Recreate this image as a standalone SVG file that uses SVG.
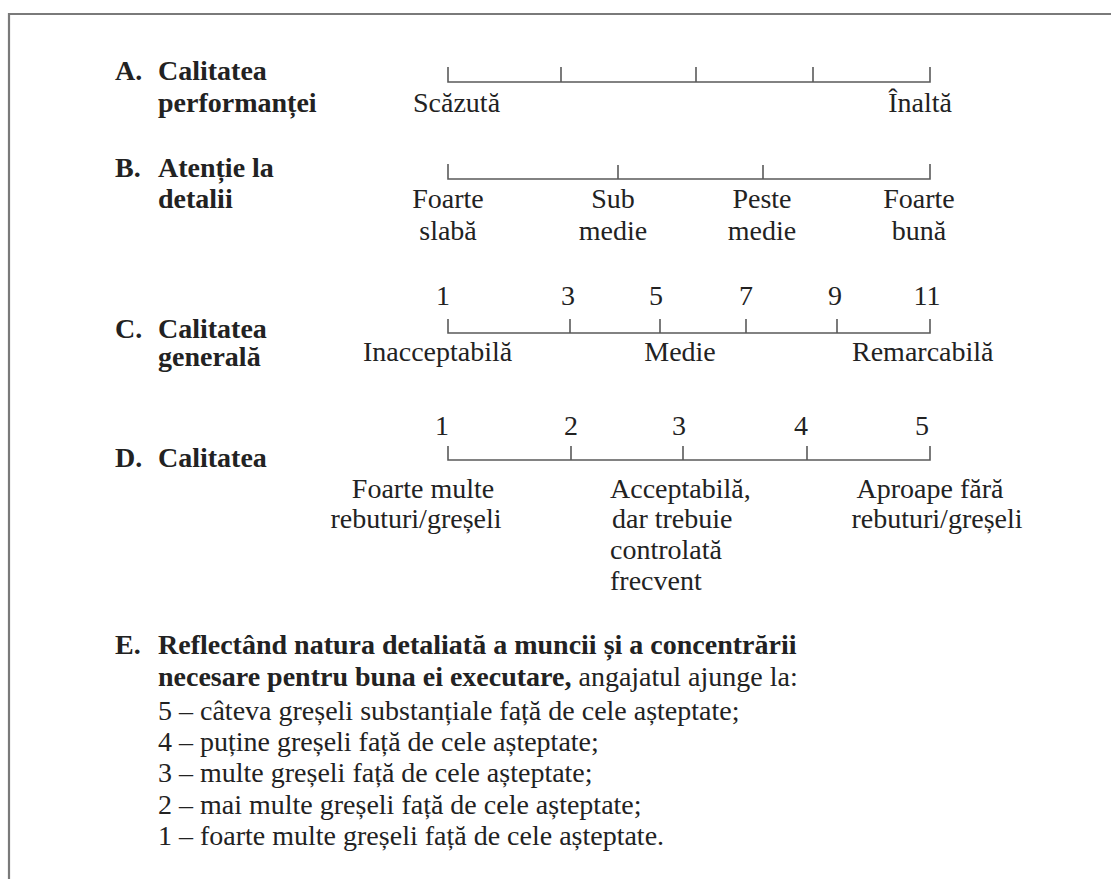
<svg xmlns="http://www.w3.org/2000/svg" width="1111" height="879" viewBox="0 0 1111 879">
  <rect width="1111" height="879" fill="#fff"/>
  <path d="M9,879 V14 H1111" stroke="#7a7a7a" stroke-width="2.2" fill="none"/>

  <!-- scale axes -->
  <g id="axes" stroke="#5a5a5a" stroke-width="1.6" fill="none">
    <path id="axis-a" d="M448,67 V82 H930 V67 M561,67 V82 M696,67 V82 M813,67 V82"/>
    <path id="axis-b" d="M448,164 V179 H930 V164 M618,165 V179 M763,165 V179"/>
    <path id="axis-c" d="M448,319 V333 H930 V319 M570,319 V333 M660,319 V333 M746,319 V333 M837,319 V333"/>
    <path id="axis-d" d="M448,446 V460 H930 V446 M571,446 V460 M683,446 V460 M807,446 V460"/>
  </g>

  <g fill="#222" font-size="28">
    <g id="scale-a">
      <text style="font-family: 'Liberation Serif'" font-weight="bold" x="115" y="80">A.</text>
      <text style="font-family: 'Liberation Serif'" font-weight="bold" x="158" y="80">Calitatea</text>
      <text style="font-family: 'Liberation Serif'" font-weight="bold" x="158" y="112">performanței</text>
      <text style="font-family: 'Liberation Serif'" x="413" y="112">Scăzută</text>
      <text style="font-family: 'Liberation Serif'" text-anchor="end" x="952" y="112">Înaltă</text>
    </g>

    <g id="scale-b">
      <text style="font-family: 'Liberation Serif'" font-weight="bold" x="115" y="177">B.</text>
      <text style="font-family: 'Liberation Serif'" font-weight="bold" x="158" y="177">Atenție la</text>
      <text style="font-family: 'Liberation Serif'" font-weight="bold" x="158" y="208">detalii</text>
      <text style="font-family: 'Liberation Serif'" text-anchor="middle" x="448" y="208">Foarte</text>
      <text style="font-family: 'Liberation Serif'" text-anchor="middle" x="448" y="240">slabă</text>
      <text style="font-family: 'Liberation Serif'" text-anchor="middle" x="613" y="208">Sub</text>
      <text style="font-family: 'Liberation Serif'" text-anchor="middle" x="613" y="240">medie</text>
      <text style="font-family: 'Liberation Serif'" text-anchor="middle" x="762" y="208">Peste</text>
      <text style="font-family: 'Liberation Serif'" text-anchor="middle" x="762" y="240">medie</text>
      <text style="font-family: 'Liberation Serif'" text-anchor="middle" x="919" y="208">Foarte</text>
      <text style="font-family: 'Liberation Serif'" text-anchor="middle" x="919" y="240">bună</text>
    </g>

    <g id="scale-c">
      <text style="font-family: 'Liberation Serif'" text-anchor="middle" x="443" y="305">1</text>
      <text style="font-family: 'Liberation Serif'" text-anchor="middle" x="568" y="305">3</text>
      <text style="font-family: 'Liberation Serif'" text-anchor="middle" x="656" y="305">5</text>
      <text style="font-family: 'Liberation Serif'" text-anchor="middle" x="746" y="305">7</text>
      <text style="font-family: 'Liberation Serif'" text-anchor="middle" x="835" y="305">9</text>
      <text style="font-family: 'Liberation Serif'" text-anchor="middle" x="927" y="305">11</text>
      <text style="font-family: 'Liberation Serif'" font-weight="bold" x="115" y="338">C.</text>
      <text style="font-family: 'Liberation Serif'" font-weight="bold" x="158" y="338">Calitatea</text>
      <text style="font-family: 'Liberation Serif'" font-weight="bold" x="158" y="366">generală</text>
      <text style="font-family: 'Liberation Serif'" x="363" y="361">Inacceptabilă</text>
      <text style="font-family: 'Liberation Serif'" text-anchor="middle" x="680" y="361">Medie</text>
      <text style="font-family: 'Liberation Serif'" x="852" y="361">Remarcabilă</text>
    </g>

    <g id="scale-d">
      <text style="font-family: 'Liberation Serif'" text-anchor="middle" x="442" y="435">1</text>
      <text style="font-family: 'Liberation Serif'" text-anchor="middle" x="571" y="435">2</text>
      <text style="font-family: 'Liberation Serif'" text-anchor="middle" x="679" y="435">3</text>
      <text style="font-family: 'Liberation Serif'" text-anchor="middle" x="801" y="435">4</text>
      <text style="font-family: 'Liberation Serif'" text-anchor="middle" x="922" y="435">5</text>
      <text style="font-family: 'Liberation Serif'" font-weight="bold" x="115" y="467">D.</text>
      <text style="font-family: 'Liberation Serif'" font-weight="bold" x="158" y="467">Calitatea</text>
      <text style="font-family: 'Liberation Serif'" text-anchor="middle" x="423" y="498">Foarte multe</text>
      <text style="font-family: 'Liberation Serif'" text-anchor="middle" x="416" y="528">rebuturi/greșeli</text>
      <text style="font-family: 'Liberation Serif'" x="610" y="498">Acceptabilă,</text>
      <text style="font-family: 'Liberation Serif'" x="612" y="528">dar trebuie</text>
      <text style="font-family: 'Liberation Serif'" x="610" y="559">controlată</text>
      <text style="font-family: 'Liberation Serif'" x="610" y="590">frecvent</text>
      <text style="font-family: 'Liberation Serif'" text-anchor="middle" x="930" y="498">Aproape fără</text>
      <text style="font-family: 'Liberation Serif'" text-anchor="middle" x="937" y="528">rebuturi/greșeli</text>
    </g>

    <g id="item-e">
      <text style="font-family: 'Liberation Serif'" font-weight="bold" x="115" y="654">E.</text>
      <text style="font-family: 'Liberation Serif'" font-weight="bold" x="158" y="654">Reflectând natura detaliată a muncii și a concentrării</text>
      <text style="font-family: 'Liberation Serif'" x="158" y="686"><tspan font-weight="bold">necesare pentru buna ei executare,</tspan> angajatul ajunge la:</text>
      <text style="font-family: 'Liberation Serif'" x="158" y="720">5 – câteva greșeli substanțiale față de cele așteptate;</text>
      <text style="font-family: 'Liberation Serif'" x="158" y="751">4 – puține greșeli față de cele așteptate;</text>
      <text style="font-family: 'Liberation Serif'" x="158" y="782">3 – multe greșeli față de cele așteptate;</text>
      <text style="font-family: 'Liberation Serif'" x="158" y="814">2 – mai multe greșeli față de cele așteptate;</text>
      <text style="font-family: 'Liberation Serif'" x="158" y="845">1 – foarte multe greșeli față de cele așteptate.</text>
    </g>
  </g>
</svg>
